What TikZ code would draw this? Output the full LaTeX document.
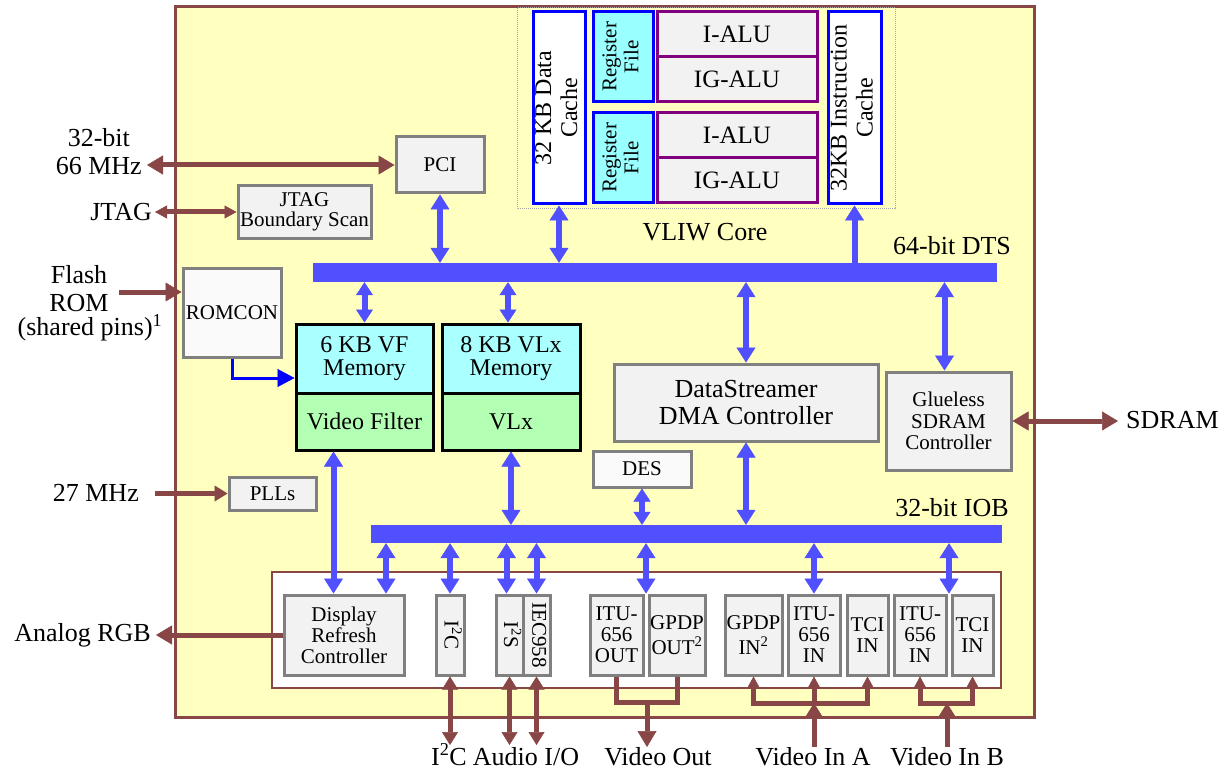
\documentclass[tikz,border=0pt]{standalone}
\usepackage{fontspec}
\usepackage{graphicx}
\setmainfont{Liberation Serif}
\usetikzlibrary{arrows.meta,calc}

\definecolor{chipfill}{RGB}{255,255,192}
\definecolor{brownline}{RGB}{136,70,70}
\definecolor{busblue}{RGB}{80,80,255}
\definecolor{boxgray}{RGB}{128,128,128}
\definecolor{boxfill}{RGB}{242,242,242}
\definecolor{nearwhite}{RGB}{250,250,250}
\definecolor{memcyan}{RGB}{170,255,255}
\definecolor{rfcyan}{RGB}{153,255,255}
\definecolor{vfgreen}{RGB}{179,255,179}
\definecolor{alupurple}{RGB}{128,0,128}
\definecolor{pureblue}{RGB}{0,0,255}

% rotated, possibly multi-line text inside an upright box
\newcommand{\rottxt}[2]{\rotatebox{#1}{\begin{tabular}{@{}c@{}}#2\end{tabular}}}

\tikzset{
  bustip/.tip={Triangle[width=19pt,length=15pt,line width=0.5pt]},
  shorttip/.tip={Triangle[width=17pt,length=13pt,line width=0.5pt]},
  extbig/.tip={Triangle[width=19pt,length=16pt,line width=0.5pt]},
  extmid/.tip={Triangle[width=16pt,length=13pt,line width=0.5pt]},
  extsmall/.tip={Triangle[width=13pt,length=12pt,line width=0.5pt]},
  romtip/.tip={Triangle[width=18pt,length=17pt,line width=0.5pt]},
  blk/.style={draw=boxgray, fill=boxfill, line width=3pt, inner sep=0pt,
    align=center, font=\fontsize{21}{21.5}\selectfont},
  mem/.style={draw=black, line width=3pt, fill=memcyan, inner sep=0pt,
    align=center, font=\fontsize{24}{23}\selectfont},
  cache/.style={draw=pureblue, line width=3pt, fill=white, inner sep=0pt,
    font=\fontsize{24}{26}\selectfont},
  regfile/.style={cache, fill=rfcyan, font=\fontsize{21}{22}\selectfont},
  alu/.style={draw=alupurple, line width=3pt, fill=boxfill, inner sep=0pt,
    minimum width=160pt, minimum height=45pt, font=\fontsize{25}{25}\selectfont},
  per/.style={blk, minimum height=80pt, font=\fontsize{21}{21}\selectfont},
  gpdp/.style={per, font=\fontsize{21}{25}\selectfont},
  busbar/.style={fill=busblue, draw=none, inner sep=0pt},
  lbl/.style={inner sep=0pt, align=center, font=\fontsize{26}{28}\selectfont},
  busarr/.style={draw=busblue, line width=6pt, arrows={bustip-bustip}},
  busshort/.style={draw=busblue, line width=6pt, arrows={shorttip-shorttip}},
  busone/.style={draw=busblue, line width=6pt, arrows={-bustip}},
  romarr/.style={draw=pureblue, line width=3pt, arrows={-romtip}},
  extline/.style={draw=brownline, line width=5pt},
  extarr/.style={extline, arrows={-extbig}},
  extboth/.style={extline, arrows={extbig-extbig}},
  extbothmid/.style={extline, arrows={extmid-extmid}},
  extarrmid/.style={extline, arrows={-extmid}},
  extarrsmall/.style={extline, arrows={-extsmall}},
}

\begin{document}
\begin{tikzpicture}[x=1pt,y=-1pt]
\useasboundingbox (0,0) rectangle (1223,770);
\fill[white] (0,0) rectangle (1223,770);

% chip outline and inner frames
\draw[brownline, line width=3pt, fill=chipfill] (175,7) rectangle (1034,717);
\draw[gray!70, line width=1pt, densely dotted] (517,8) rectangle (895,209);
\draw[brownline, line width=2pt, fill=white] (272,572) rectangle (1001,688);

% VLIW core
\node[cache, minimum width=52pt, minimum height=192pt] (dcache) at (559,108) {\rottxt{90}{32 KB Data\\Cache}};
\node[regfile, minimum width=60pt, minimum height=90pt] (rf1) at (623,57) {\rottxt{90}{Register\\File}};
\node[alu] (ialu1) at (737,34.5) {I-ALU};
\node[alu] (igalu1) at (737,79.5) {IG-ALU};
\node[regfile, minimum width=60pt, minimum height=90pt] (rf2) at (623,158) {\rottxt{90}{Register\\File}};
\node[alu] (ialu2) at (737,135.5) {I-ALU};
\node[alu] (igalu2) at (737,180.5) {IG-ALU};
\node[cache, minimum width=53pt, minimum height=192pt] (icache) at (854.5,108) {\rottxt{90}{32KB Instruction\\Cache}};
\node[lbl] (vliwlbl) at (705,232) {VLIW Core};

% blocks on the data transfer bus
\node[blk, minimum width=88pt, minimum height=56pt] (pci) at (440,165) {PCI};
\node[blk, minimum width=133pt, minimum height=52pt, font=\fontsize{21}{20}\selectfont] (jtag) at (304.5,212) {JTAG\\Boundary Scan};
\node[blk, fill=nearwhite, minimum width=98pt, minimum height=89pt] (romcon) at (232,312.5) {ROMCON};
\node[busbar, minimum width=684pt, minimum height=19pt] (dts) at (655,272.5) {};
\node[lbl] (dtslbl) at (952,246) {64-bit DTS};

\node[mem, minimum width=137pt, minimum height=69pt] (vfmem) at (364.5,358.5) {6 KB VF\\Memory};
\node[mem, fill=vfgreen, minimum width=137pt, minimum height=57pt] (vf) at (364.5,421.5) {Video Filter};
\node[mem, minimum width=138pt, minimum height=69pt] (vlxmem) at (511,358.5) {8 KB VLx\\Memory};
\node[mem, fill=vfgreen, minimum width=138pt, minimum height=57pt] (vlx) at (511,421.5) {VLx};

\node[blk, minimum width=264pt, minimum height=77pt, font=\fontsize{26}{27}\selectfont] (dma) at (746,402.5) {DataStreamer\\DMA Controller};
\node[blk, minimum width=125pt, minimum height=98pt, font=\fontsize{21}{21.7}\selectfont] (sdramc) at (948.5,421) {Glueless\\SDRAM\\Controller};
\node[blk, fill=nearwhite, minimum width=98pt, minimum height=36pt] (des) at (642,469) {DES};
\node[blk, minimum width=87pt, minimum height=33pt] (plls) at (272.5,493.5) {PLLs};

% I/O bus and peripherals
\node[busbar, minimum width=631pt, minimum height=18pt] (iob) at (686.5,534) {};
\node[lbl] (ioblbl) at (952,508) {32-bit IOB};

\node[per, minimum width=120pt] (drc) at (344,635) {Display\\Refresh\\Controller};
\node[per, minimum width=28pt] (i2c) at (450,635) {\rottxt{-90}{I\textsuperscript{2}C}};
\node[per, minimum width=27pt] (i2s) at (509.5,635) {\rottxt{-90}{I\textsuperscript{2}S}};
\node[per, minimum width=27pt] (iec) at (536.5,635) {\rottxt{-90}{IEC958}};
\node[per, minimum width=53pt] (ituout) at (616.5,635) {ITU-\\656\\OUT};
\node[gpdp, minimum width=56pt] (gpdpout) at (677,635) {GPDP\\OUT\textsuperscript{2}};
\node[gpdp, minimum width=57pt] (gpdpin) at (753.5,635) {GPDP\\IN\textsuperscript{2}};
\node[per, minimum width=52pt] (ituina) at (814,635) {ITU-\\656\\IN};
\node[per, minimum width=41pt] (tciina) at (867.5,635) {TCI\\IN};
\node[per, minimum width=52pt] (ituinb) at (920,635) {ITU-\\656\\IN};
\node[per, minimum width=41pt] (tciinb) at (972.5,635) {TCI\\IN};

% external signal labels
\node[lbl, anchor=east] (l66) at (142,152) {32-bit\\66 MHz};
\node[lbl, anchor=east] (ljtag) at (152,212) {JTAG};
\node[lbl] (lflash) at (79,289) {Flash\\ROM};
\node[lbl] (lshared) at (90,328) {(shared pins)\textsuperscript{1}};
\node[lbl, anchor=east] (l27) at (139,493) {27 MHz};
\node[lbl, anchor=east] (lrgb) at (151,635) {Analog RGB};
\node[lbl, anchor=west] (lsdram) at (1126,420) {SDRAM};
\node[lbl, anchor=base] (li2c) at (449,765) {I\textsuperscript{2}C};
\node[lbl, anchor=base] (laudio) at (526,765) {Audio I/O};
\node[lbl, anchor=base] (lvout) at (658,765) {Video Out};
\node[lbl, anchor=base] (lvina) at (813,765) {Video In A};
\node[lbl, anchor=base] (lvinb) at (947,765) {Video In B};

% DTS connections
\draw[busarr] (pci.south) -- (pci.south |- dts.north);
\draw[busarr] (dcache.south) -- (dcache.south |- dts.north);
\draw[busone] (icache.south |- dts.north) -- (icache.south);
\draw[busshort] (vfmem.north |- dts.south) -- (vfmem.north);
\coordinate (vlxtop) at ($(vlxmem.north)+(-3,0)$);
\draw[busshort] (vlxtop |- dts.south) -- (vlxtop);
\draw[busarr] (dma.north |- dts.south) -- (dma.north);
\coordinate (sdctop) at ($(sdramc.north)+(-4,0)$);
\draw[busarr] (sdctop |- dts.south) -- (sdctop);

% IOB connections
\draw[busarr] (dma.south) -- (dma.south |- iob.north);
\draw[busshort] (des.south) -- (des.south |- iob.north);
\draw[busarr] (vlx.south) -- (vlx.south |- iob.north);
\coordinate (vfport) at ($(vf.south)+(-31,0)$);
\draw[busarr] (vfport) -- (vfport |- drc.north);
\coordinate (drcport) at ($(drc.north)+(42,0)$);
\draw[busarr] (iob.south -| drcport) -- (drcport);
\draw[busarr] (iob.south -| i2c.north) -- (i2c.north);
\coordinate (i2sport) at ($(i2s.north)+(-3,0)$);
\draw[busarr] (iob.south -| i2sport) -- (i2sport);
\draw[busarr] (iob.south -| iec.north) -- (iec.north);
\coordinate (voport) at ($(ituout.north east)!0.5!(gpdpout.north west)$);
\draw[busarr] (iob.south -| voport) -- (voport);
\draw[busarr] (iob.south -| ituina.north) -- (ituina.north);
\coordinate (viport) at ($(ituinb.north east)!0.5!(tciinb.north west)$);
\draw[busarr] (iob.south -| viport) -- (viport);

% boot ROM path into the video filter memory
\coordinate (vfin) at ($(vfmem.west)+(0,19.5)$);
\draw[romarr] (romcon.south) |- (vfin);

% external pins
\coordinate (pcisrc) at (147,165);
\draw[extboth] (pcisrc) -- (pci.west);
\coordinate (jtagsrc) at (155,212);
\draw[extline, arrows={extsmall-extsmall}] (jtagsrc) -- (jtag.west);
\coordinate (flashsrc) at (119,292);
\coordinate (romin) at ($(romcon.west)+(0,-20.5)$);
\draw[extarr] (flashsrc) -- (romin);
\coordinate (clksrc) at (155,493.5);
\draw[extarrmid] (clksrc) -- (plls.west);
\coordinate (rgbout) at (156,635);
\draw[extarr] (drc.west) -- (rgbout);
\coordinate (sdramend) at (1118,421);
\draw[extboth] (sdramc.east) -- (sdramend);

% audio and serial pins
\coordinate (i2cend) at (450,745);
\draw[extbothmid] (i2c.south) -- (i2cend);
\draw[extbothmid] (i2s.south) -- (i2s.south |- i2cend);
\draw[extbothmid] (iec.south) -- (iec.south |- i2cend);

% video out
\coordinate (vojoin) at (647,702);
\coordinate (voend) at (647,747);
\draw[extline] (ituout.south) |- (vojoin) -| (gpdpout.south);
\draw[extarr] (vojoin) -- (voend);

% video in A
\coordinate (viajoin) at (814,703);
\coordinate (viaend) at (814,747);
\draw[extline, line cap=rect] (gpdpin.south |- viajoin) -- (tciina.south |- viajoin);
\draw[extarrsmall] (gpdpin.south |- viajoin) -- (gpdpin.south);
\draw[extarrsmall] (viajoin) -- (ituina.south);
\draw[extarrsmall] (tciina.south |- viajoin) -- (tciina.south);
\draw[extarrmid] (viaend) -- (viajoin);

% video in B
\coordinate (vibjoin) at (947,703);
\coordinate (vibend) at (947,747);
\draw[extline, line cap=rect] (ituinb.south |- vibjoin) -- (tciinb.south |- vibjoin);
\draw[extarrsmall] (ituinb.south |- vibjoin) -- (ituinb.south);
\draw[extarrsmall] (tciinb.south |- vibjoin) -- (tciinb.south);
\draw[extarrmid] (vibend) -- (vibjoin);
\end{tikzpicture}
\end{document}
